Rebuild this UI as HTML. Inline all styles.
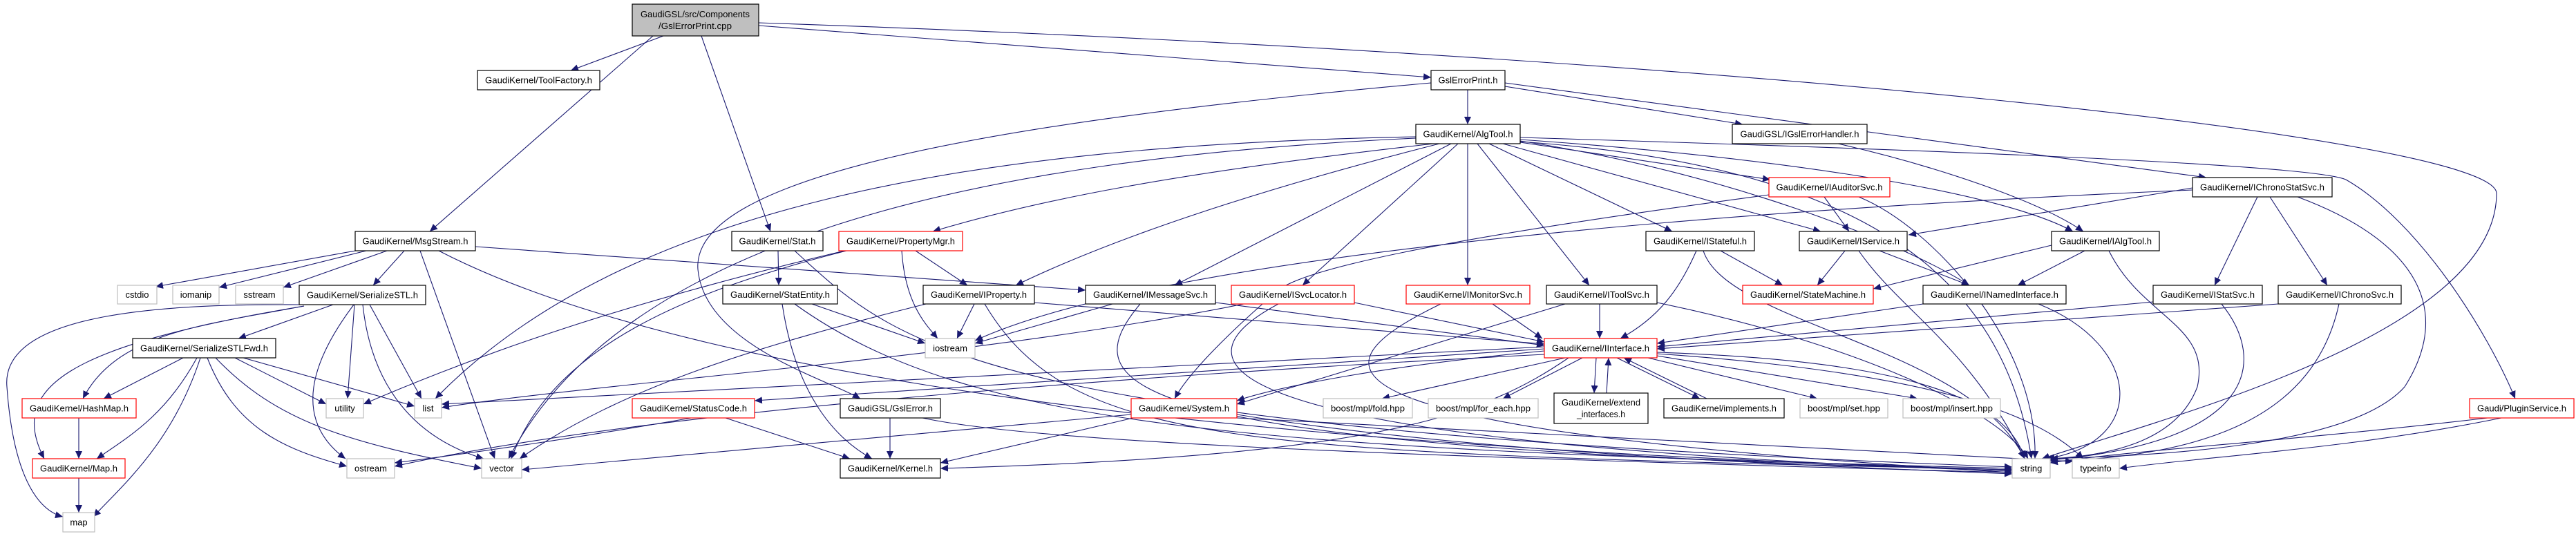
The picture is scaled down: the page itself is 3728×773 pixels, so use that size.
<!DOCTYPE html>
<html><head><meta charset="utf-8"><style>
html,body{margin:0;padding:0;background:#fff;}
svg{display:block;}
text{font-family:"Liberation Sans",sans-serif;font-size:13px;fill:#000;}
.e{fill:none;stroke:#191970;stroke-width:1.1;marker-end:url(#a);}
.n{fill:#fff;stroke:#000;stroke-width:1.2;}
.r{fill:#fff;stroke:#ff0000;stroke-width:1.2;}
.g{fill:#fff;stroke:#bfbfbf;stroke-width:1.2;}
</style></head><body>
<svg width="3728" height="773" viewBox="0 0 3728 773" xmlns="http://www.w3.org/2000/svg">
<defs><marker id="a" markerUnits="userSpaceOnUse" markerWidth="12" markerHeight="10" refX="11" refY="5" orient="auto"><path d="M0,0 L11,5 L0,10 z" fill="#191970"/></marker></defs>
<g>
<path class="e" d="M960,52 L826,102"/>
<path class="e" d="M945,52 L622,335"/>
<path class="e" d="M1015,52 L1115,335"/>
<path class="e" d="M1098,37 L2071,112"/>
<path class="e" d="M1098,33 C2500,80 3613,200 3613,280 C3613,480 3150,600 2955,664"/>
<path class="e" d="M2124,130 L2124,180"/>
<path class="e" d="M2178,125 L2522,180"/>
<path class="e" d="M2178,120 L3193,257"/>
<path class="e" d="M2071,120 C1400,180 1000,260 1010,390 C1020,500 1200,550 1245,577"/>
<path class="e" d="M2660,208 C2800,240 2950,290 3015,335"/>
<path class="e" d="M2049,198 C1400,210 900,300 630,577"/>
<path class="e" d="M2049,200 C1400,230 900,350 736,664"/>
<path class="e" d="M2075,208 C1700,250 1500,290 1350,335"/>
<path class="e" d="M2083,208 C1800,280 1600,350 1470,413"/>
<path class="e" d="M2100,208 L1700,413"/>
<path class="e" d="M2110,208 L1885,413"/>
<path class="e" d="M2124,208 L2124,413"/>
<path class="e" d="M2138,208 L2300,413"/>
<path class="e" d="M2155,208 L2420,335"/>
<path class="e" d="M2175,208 L2635,335"/>
<path class="e" d="M2200,206 L2562,260"/>
<path class="e" d="M2200,202 C2600,230 2900,280 3000,335"/>
<path class="e" d="M2200,204 C2500,250 2750,350 2850,413"/>
<path class="e" d="M2200,199 C2900,220 3350,240 3395,260 C3500,320 3600,480 3640,577"/>
<path class="e" d="M2200,205 C2700,240 2900,400 2940,664"/>
<path class="e" d="M2640,285 L2676,335"/>
<path class="e" d="M2560,282 C2200,330 1900,380 1850,420 C1780,480 1720,540 1700,577"/>
<path class="e" d="M2690,285 C2800,330 2950,500 2945,664"/>
<path class="e" d="M3173,272 L2762,340"/>
<path class="e" d="M3267,285 L3205,413"/>
<path class="e" d="M3285,285 L3368,413"/>
<path class="e" d="M3325,285 C3500,350 3550,450 3480,560 C3400,650 3100,660 2962,664"/>
<path class="e" d="M3173,275 C2600,300 1700,360 1411,493"/>
<path class="e" d="M520,362 L225,415"/>
<path class="e" d="M530,363 L317,416"/>
<path class="e" d="M560,363 L410,416"/>
<path class="e" d="M585,363 L540,413"/>
<path class="e" d="M608,363 L716,664"/>
<path class="e" d="M635,363 C900,500 1500,640 2912,680"/>
<path class="e" d="M688,357 L1571,420"/>
<path class="e" d="M433,441 C250,440 0,450 10,560 C20,700 60,740 91,748"/>
<path class="e" d="M440,443 C300,470 170,480 120,577"/>
<path class="e" d="M440,443 C100,500 10,560 64,664"/>
<path class="e" d="M482,441 L345,490"/>
<path class="e" d="M513,441 L503,577"/>
<path class="e" d="M512,441 C430,550 440,620 500,664"/>
<path class="e" d="M535,441 L610,577"/>
<path class="e" d="M525,441 C540,580 620,640 700,664"/>
<path class="e" d="M265,518 L150,577"/>
<path class="e" d="M285,518 C240,600 190,630 140,664"/>
<path class="e" d="M290,518 C250,640 180,700 135,748"/>
<path class="e" d="M300,518 C340,620 410,650 502,675"/>
<path class="e" d="M312,518 C400,610 500,640 697,678"/>
<path class="e" d="M340,518 L472,585"/>
<path class="e" d="M352,518 L600,588"/>
<path class="e" d="M114,605 L114,664"/>
<path class="e" d="M114,692 L114,742"/>
<path class="e" d="M1126,363 L1127,413"/>
<path class="e" d="M1150,363 C1300,500 1400,620 2912,676"/>
<path class="e" d="M1175,440 L1339,497"/>
<path class="e" d="M1132,440 C1150,560 1200,630 1262,664"/>
<path class="e" d="M1150,440 C1400,620 1800,650 2912,678"/>
<path class="e" d="M1325,363 L1400,413"/>
<path class="e" d="M1305,363 C1310,440 1340,470 1357,490"/>
<path class="e" d="M1225,363 C1000,420 800,500 740,664"/>
<path class="e" d="M1222,363 C900,440 700,510 526,585"/>
<path class="e" d="M1410,440 L1385,490"/>
<path class="e" d="M1497,438 L2235,498"/>
<path class="e" d="M1425,440 C1550,650 1800,655 2912,680"/>
<path class="e" d="M1340,440 C1100,500 900,560 752,664"/>
<path class="e" d="M1610,440 L1411,497"/>
<path class="e" d="M1759,438 L2235,500"/>
<path class="e" d="M1650,440 C1550,560 1600,650 2912,680"/>
<path class="e" d="M1960,438 L2235,495"/>
<path class="e" d="M1850,440 C1700,520 1700,640 2912,682"/>
<path class="e" d="M1800,440 C1400,520 900,550 639,590"/>
<path class="e" d="M2160,440 L2232,490"/>
<path class="e" d="M2085,440 C1900,530 1850,620 2912,684"/>
<path class="e" d="M2315,440 L2315,490"/>
<path class="e" d="M2398,438 C2700,500 2900,600 2935,664"/>
<path class="e" d="M2265,440 L1790,585"/>
<path class="e" d="M2490,363 L2580,413"/>
<path class="e" d="M2455,363 C2430,420 2400,460 2345,490"/>
<path class="e" d="M2465,363 C2500,470 2850,500 2930,664"/>
<path class="e" d="M2670,363 L2630,413"/>
<path class="e" d="M2720,363 L2850,413"/>
<path class="e" d="M2690,363 C2750,450 2850,500 2930,664"/>
<path class="e" d="M2969,355 L2711,418"/>
<path class="e" d="M3017,363 L2920,413"/>
<path class="e" d="M3052,363 C3100,460 3200,470 3180,560 C3150,640 3050,660 2967,664"/>
<path class="e" d="M2783,440 L2398,497"/>
<path class="e" d="M2950,440 C3100,500 3110,640 2962,664"/>
<path class="e" d="M3116,437 L2398,502"/>
<path class="e" d="M3215,440 C3280,520 3270,640 2965,666"/>
<path class="e" d="M3297,440 L2398,505"/>
<path class="e" d="M3385,440 C3350,600 3200,660 2967,668"/>
<path class="e" d="M2265,518 L2000,577"/>
<path class="e" d="M2290,518 L2175,577"/>
<path class="e" d="M2310,518 L2307,569"/>
<path class="e" d="M2325,569 L2328,518"/>
<path class="e" d="M2340,518 L2460,577"/>
<path class="e" d="M2470,577 L2350,518"/>
<path class="e" d="M2385,518 L2630,577"/>
<path class="e" d="M2398,515 L2775,577"/>
<path class="e" d="M2398,510 C2700,520 2900,560 2930,664"/>
<path class="e" d="M2398,512 C2800,540 2950,600 3015,664"/>
<path class="e" d="M2235,508 C2000,530 1850,560 1790,580"/>
<path class="e" d="M2235,505 L1092,580"/>
<path class="e" d="M2270,518 C2150,600 2000,660 1361,678"/>
<path class="e" d="M2235,502 L639,585"/>
<path class="e" d="M2235,513 C1900,530 1000,580 571,675"/>
<path class="e" d="M1050,605 L1230,664"/>
<path class="e" d="M1000,605 C800,640 650,660 571,670"/>
<path class="e" d="M1288,605 L1288,664"/>
<path class="e" d="M1335,605 C1500,640 2000,660 2912,684"/>
<path class="e" d="M1640,605 L1361,670"/>
<path class="e" d="M1637,600 L755,680"/>
<path class="e" d="M1790,600 C2100,650 2500,670 2912,686"/>
<path class="e" d="M1790,605 L3000,668"/>
<path class="e" d="M3600,605 C3300,640 3100,650 2967,670"/>
<path class="e" d="M3620,605 C3400,650 3200,660 3067,678"/>
</g>
<g>
<rect x="915" y="6" width="183" height="46" fill="#bfbfbf" stroke="#000" stroke-width="1.2"/>
<text x="1006" y="25" text-anchor="middle" textLength="158" lengthAdjust="spacingAndGlyphs">GaudiGSL/src/Components</text>
<text x="1006" y="42" text-anchor="middle" textLength="106" lengthAdjust="spacingAndGlyphs">/GslErrorPrint.cpp</text>

<rect class="n" x="691" y="102" width="177" height="28"/><text x="779.5" y="120.5" text-anchor="middle" textLength="155" lengthAdjust="spacingAndGlyphs">GaudiKernel/ToolFactory.h</text>
<rect class="n" x="2071" y="102" width="107" height="28"/><text x="2124.5" y="120.5" text-anchor="middle" textLength="86" lengthAdjust="spacingAndGlyphs">GslErrorPrint.h</text>
<rect class="n" x="2049" y="180" width="151" height="28"/><text x="2124.5" y="198.5" text-anchor="middle" textLength="130" lengthAdjust="spacingAndGlyphs">GaudiKernel/AlgTool.h</text>
<rect class="n" x="2507" y="180" width="195" height="28"/><text x="2604.5" y="198.5" text-anchor="middle" textLength="172" lengthAdjust="spacingAndGlyphs">GaudiGSL/IGslErrorHandler.h</text>
<rect class="r" x="2560" y="257" width="175" height="28"/><text x="2647.5" y="275.5" text-anchor="middle" textLength="154" lengthAdjust="spacingAndGlyphs">GaudiKernel/IAuditorSvc.h</text>
<rect class="n" x="3173" y="257" width="202" height="28"/><text x="3274" y="275.5" text-anchor="middle" textLength="180" lengthAdjust="spacingAndGlyphs">GaudiKernel/IChronoStatSvc.h</text>

<rect class="n" x="514" y="335" width="174" height="28"/><text x="601" y="353.5" text-anchor="middle" textLength="153" lengthAdjust="spacingAndGlyphs">GaudiKernel/MsgStream.h</text>
<rect class="n" x="1059" y="335" width="132" height="28"/><text x="1125" y="353.5" text-anchor="middle" textLength="111" lengthAdjust="spacingAndGlyphs">GaudiKernel/Stat.h</text>
<rect class="r" x="1214" y="335" width="179" height="28"/><text x="1303.5" y="353.5" text-anchor="middle" textLength="157" lengthAdjust="spacingAndGlyphs">GaudiKernel/PropertyMgr.h</text>
<rect class="n" x="2382" y="335" width="157" height="28"/><text x="2460.5" y="353.5" text-anchor="middle" textLength="135" lengthAdjust="spacingAndGlyphs">GaudiKernel/IStateful.h</text>
<rect class="n" x="2604" y="335" width="156" height="28"/><text x="2682" y="353.5" text-anchor="middle" textLength="134" lengthAdjust="spacingAndGlyphs">GaudiKernel/IService.h</text>
<rect class="n" x="2969" y="335" width="156" height="28"/><text x="3047" y="353.5" text-anchor="middle" textLength="134" lengthAdjust="spacingAndGlyphs">GaudiKernel/IAlgTool.h</text>

<rect class="g" x="170" y="413" width="57" height="27"/><text x="198.5" y="431" text-anchor="middle">cstdio</text>
<rect class="g" x="250" y="413" width="67" height="27"/><text x="283.5" y="431" text-anchor="middle">iomanip</text>
<rect class="g" x="341" y="413" width="69" height="27"/><text x="375.5" y="431" text-anchor="middle">sstream</text>
<rect class="n" x="433" y="413" width="183" height="28"/><text x="524.5" y="431.5" text-anchor="middle" textLength="161" lengthAdjust="spacingAndGlyphs">GaudiKernel/SerializeSTL.h</text>
<rect class="n" x="1046" y="413" width="166" height="27"/><text x="1129" y="431" text-anchor="middle" textLength="144" lengthAdjust="spacingAndGlyphs">GaudiKernel/StatEntity.h</text>
<rect class="n" x="1336" y="413" width="161" height="27"/><text x="1416.5" y="431" text-anchor="middle" textLength="139" lengthAdjust="spacingAndGlyphs">GaudiKernel/IProperty.h</text>
<rect class="n" x="1571" y="413" width="188" height="27"/><text x="1665" y="431" text-anchor="middle" textLength="166" lengthAdjust="spacingAndGlyphs">GaudiKernel/IMessageSvc.h</text>
<rect class="r" x="1782" y="413" width="178" height="27"/><text x="1871" y="431" text-anchor="middle" textLength="156" lengthAdjust="spacingAndGlyphs">GaudiKernel/ISvcLocator.h</text>
<rect class="r" x="2035" y="413" width="179" height="27"/><text x="2124.5" y="431" text-anchor="middle" textLength="157" lengthAdjust="spacingAndGlyphs">GaudiKernel/IMonitorSvc.h</text>
<rect class="n" x="2238" y="413" width="160" height="27"/><text x="2318" y="431" text-anchor="middle" textLength="138" lengthAdjust="spacingAndGlyphs">GaudiKernel/IToolSvc.h</text>
<rect class="r" x="2522" y="413" width="189" height="27"/><text x="2616.5" y="431" text-anchor="middle" textLength="167" lengthAdjust="spacingAndGlyphs">GaudiKernel/StateMachine.h</text>
<rect class="n" x="2783" y="413" width="207" height="27"/><text x="2886.5" y="431" text-anchor="middle" textLength="185" lengthAdjust="spacingAndGlyphs">GaudiKernel/INamedInterface.h</text>
<rect class="n" x="3116" y="413" width="158" height="27"/><text x="3195" y="431" text-anchor="middle" textLength="136" lengthAdjust="spacingAndGlyphs">GaudiKernel/IStatSvc.h</text>
<rect class="n" x="3297" y="413" width="178" height="27"/><text x="3386" y="431" text-anchor="middle" textLength="156" lengthAdjust="spacingAndGlyphs">GaudiKernel/IChronoSvc.h</text>

<rect class="n" x="192" y="490" width="207" height="28"/><text x="295.5" y="508.5" text-anchor="middle" textLength="185" lengthAdjust="spacingAndGlyphs">GaudiKernel/SerializeSTLFwd.h</text>
<rect class="g" x="1339" y="490" width="72" height="28"/><text x="1375" y="508.5" text-anchor="middle">iostream</text>
<rect class="r" x="2235" y="490" width="163" height="28"/><text x="2316.5" y="508.5" text-anchor="middle" textLength="141" lengthAdjust="spacingAndGlyphs">GaudiKernel/IInterface.h</text>

<rect class="r" x="32" y="577" width="165" height="28"/><text x="114.5" y="595.5" text-anchor="middle" textLength="143" lengthAdjust="spacingAndGlyphs">GaudiKernel/HashMap.h</text>
<rect class="g" x="472" y="577" width="54" height="28"/><text x="499" y="595.5" text-anchor="middle">utility</text>
<rect class="g" x="600" y="577" width="39" height="28"/><text x="619.5" y="595.5" text-anchor="middle">list</text>
<rect class="r" x="915" y="577" width="177" height="28"/><text x="1003.5" y="595.5" text-anchor="middle" textLength="155" lengthAdjust="spacingAndGlyphs">GaudiKernel/StatusCode.h</text>
<rect class="n" x="1216" y="577" width="145" height="28"/><text x="1288.5" y="595.5" text-anchor="middle" textLength="123" lengthAdjust="spacingAndGlyphs">GaudiGSL/GslError.h</text>
<rect class="r" x="1637" y="577" width="153" height="28"/><text x="1713.5" y="595.5" text-anchor="middle" textLength="131" lengthAdjust="spacingAndGlyphs">GaudiKernel/System.h</text>
<rect class="g" x="1915" y="577" width="129" height="28"/><text x="1979.5" y="595.5" text-anchor="middle" textLength="107" lengthAdjust="spacingAndGlyphs">boost/mpl/fold.hpp</text>
<rect class="g" x="2067" y="577" width="159" height="28"/><text x="2146.5" y="595.5" text-anchor="middle" textLength="137" lengthAdjust="spacingAndGlyphs">boost/mpl/for_each.hpp</text>
<rect class="n" x="2249" y="569" width="136" height="44"/>
<text x="2317" y="587" text-anchor="middle" textLength="114" lengthAdjust="spacingAndGlyphs">GaudiKernel/extend</text>
<text x="2317" y="604" text-anchor="middle" textLength="70" lengthAdjust="spacingAndGlyphs">_interfaces.h</text>
<rect class="n" x="2408" y="577" width="174" height="28"/><text x="2495" y="595.5" text-anchor="middle" textLength="152" lengthAdjust="spacingAndGlyphs">GaudiKernel/implements.h</text>
<rect class="g" x="2605" y="577" width="127" height="28"/><text x="2668.5" y="595.5" text-anchor="middle" textLength="105" lengthAdjust="spacingAndGlyphs">boost/mpl/set.hpp</text>
<rect class="g" x="2754" y="577" width="141" height="28"/><text x="2824.5" y="595.5" text-anchor="middle" textLength="119" lengthAdjust="spacingAndGlyphs">boost/mpl/insert.hpp</text>
<rect class="r" x="3574" y="577" width="151" height="28"/><text x="3649.5" y="595.5" text-anchor="middle" textLength="129" lengthAdjust="spacingAndGlyphs">Gaudi/PluginService.h</text>

<rect class="r" x="47" y="664" width="134" height="28"/><text x="114" y="682.5" text-anchor="middle" textLength="112" lengthAdjust="spacingAndGlyphs">GaudiKernel/Map.h</text>
<rect class="g" x="502" y="664" width="69" height="28"/><text x="536.5" y="682.5" text-anchor="middle">ostream</text>
<rect class="g" x="697" y="664" width="58" height="28"/><text x="726" y="682.5" text-anchor="middle">vector</text>
<rect class="n" x="1216" y="664" width="145" height="28"/><text x="1288.5" y="682.5" text-anchor="middle" textLength="123" lengthAdjust="spacingAndGlyphs">GaudiKernel/Kernel.h</text>
<rect class="g" x="2912" y="664" width="55" height="28"/><text x="2939.5" y="682.5" text-anchor="middle">string</text>
<rect class="g" x="2999" y="664" width="68" height="28"/><text x="3033" y="682.5" text-anchor="middle">typeinfo</text>

<rect class="g" x="91" y="742" width="46" height="28"/><text x="114" y="760.5" text-anchor="middle">map</text>
</g>
</svg>
</body></html>
